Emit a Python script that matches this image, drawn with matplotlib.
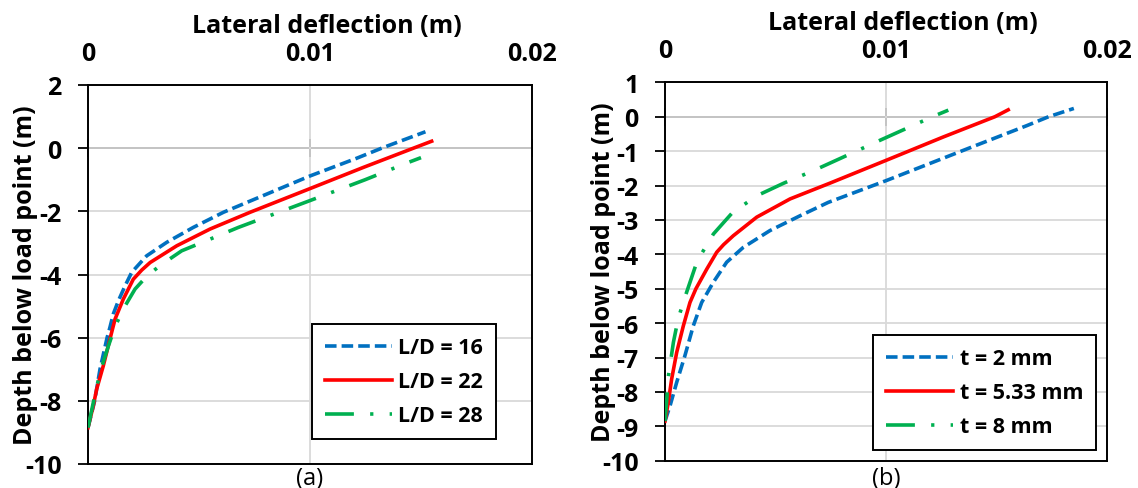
import matplotlib
matplotlib.use("Agg")
import matplotlib.pyplot as plt

plt.rcParams['font.family'] = ['Open Sans', 'DejaVu Sans']
plt.rcParams['axes.unicode_minus'] = False

# (a) effect of L/D  -- deflection (m), depth below load point (m)
ld16_x = [0, 0.0003, 0.00054, 0.00086, 0.00099, 0.00114, 0.00137, 0.00167, 0.00197, 0.00264,
          0.00355, 0.00474, 0.0061, 0.00715, 0.0100, 0.0121, 0.0133, 0.0152]
ld16_y = [-8.85, -8.0, -7.0, -6.0, -5.67, -5.25, -4.83, -4.36, -3.93, -3.41,
          -2.98, -2.51, -2.03, -1.72, -0.88, -0.32, 0.02, 0.52]
ld22_x = [0, 0.00024, 0.00039, 0.00069, 0.00099, 0.00122, 0.00159, 0.00204, 0.00242, 0.0028,
          0.004, 0.0055, 0.0073, 0.0100, 0.0124, 0.01466, 0.01548]
ld22_y = [-8.85, -8.15, -7.63, -6.89, -6.04, -5.41, -4.78, -4.15, -3.86, -3.62,
          -3.09, -2.56, -2.03, -1.28, -0.61, 0.0, 0.22]
ld28_x = [0, 0.00024, 0.00054, 0.00092, 0.00122, 0.00159, 0.00212, 0.00264, 0.00324, 0.00422,
          0.00557, 0.00677, 0.00996, 0.01248, 0.01436, 0.0150]
ld28_y = [-8.85, -8.05, -7.10, -6.26, -5.65, -5.09, -4.46, -4.06, -3.72, -3.25,
          -2.86, -2.51, -1.67, -1.0, -0.47, -0.30]

# (b) effect of wall thickness t
t2_x = [0, 0.00023, 0.00053, 0.00090, 0.00128, 0.00166, 0.00219, 0.00279, 0.00354, 0.00475,
        0.00611, 0.00739, 0.0100, 0.01365, 0.01637, 0.01736, 0.0185]
t2_y = [-8.85, -8.40, -7.72, -6.95, -6.08, -5.40, -4.81, -4.23, -3.80, -3.31,
        -2.88, -2.49, -1.86, -0.94, -0.26, 0.0, 0.24]
t533_x = [0, 0.00015, 0.00030, 0.00053, 0.00083, 0.00113, 0.00140, 0.00189, 0.00234, 0.00265,
          0.00309, 0.00415, 0.00566, 0.00747, 0.0100, 0.01259, 0.01493, 0.01553]
t533_y = [-8.85, -8.30, -7.63, -6.85, -6.08, -5.40, -5.0, -4.43, -3.94, -3.72,
          -3.46, -2.92, -2.39, -1.93, -1.27, -0.59, 0.0, 0.20]
t8_x = [0, 0.00008, 0.00015, 0.00038, 0.00060, 0.00098, 0.00146, 0.00219, 0.00305, 0.00415,
        0.00538, 0.00671, 0.00784, 0.00968, 0.01214, 0.01282]
t8_y = [-8.85, -8.21, -7.56, -6.56, -5.86, -5.10, -4.19, -3.41, -2.79, -2.30,
        -1.93, -1.57, -1.24, -0.70, 0.01, 0.19]

labels_a = ['L/D = 16', 'L/D = 22', 'L/D = 28']
labels_b = ['t = 2 mm', 't = 5.33 mm', 't = 8 mm']
x_ticks = [0, 0.01, 0.02]
x_ticklabels = ['0', '0.01', '0.02']

BLUE = '#0070C0'
RED = '#FF0000'
GREEN = '#00B050'
LW = 2.6
FS = 18


def style_panel(ax, ymin, ymax, zero_frac, tag, tag_y, leg_anchor, series, labels):
    # draw the three curves
    (x1, y1), (x2, y2), (x3, y3) = series
    ax.plot(x1, y1, color=BLUE, lw=LW, dashes=(3.2, 1.4), label=labels[0], zorder=3)
    ax.plot(x2, y2, color=RED, lw=LW, label=labels[1], zorder=3)
    ax.plot(x3, y3, color=GREEN, lw=LW, dashes=(8, 4.5, 0.9, 4.5), label=labels[2], zorder=3)

    ax.set_xlim(0, 0.02)
    ax.set_ylim(ymin, ymax)
    step = 2 if ymax == 2 else 1
    ax.set_yticks(range(ymin, ymax + 1, step))
    ax.set_xticks(x_ticks)
    ax.set_xticklabels(x_ticklabels)
    ax.xaxis.tick_top()
    ax.tick_params(axis='x', length=0, pad=14, labelsize=FS)
    ax.tick_params(axis='y', direction='out', length=7, width=1.3, pad=12, labelsize=FS)
    for lab in ax.get_xticklabels() + ax.get_yticklabels():
        lab.set_fontweight('bold')
    ax.grid(True, color='#D9D9D9', lw=1.3, zorder=0)
    for sp in ax.spines.values():
        sp.set_color('black')
        sp.set_linewidth(1.4)

    ax.set_xlabel('Lateral deflection (m)', fontsize=FS, fontweight='bold')
    ax.xaxis.set_label_position('top')
    ax.xaxis.label.set_va('center')
    ax.xaxis.set_label_coords(0.538, 1.158)
    ax.set_ylabel('Depth below load point (m)', fontsize=FS, fontweight='bold')
    ax.yaxis.label.set_va('center')
    ax.yaxis.set_label_coords(-0.14, 0.5)

    # horizontal axis line crossing at depth 0, with cross ticks
    sec = ax.secondary_xaxis(zero_frac)
    sec.set_xticks(x_ticks)
    sec.tick_params(direction='inout', length=13, width=1.4, labelbottom=False, labeltop=False)
    for sp in sec.spines.values():
        sp.set_linewidth(1.4)

    ax.text(0.5, tag_y, tag, transform=ax.transAxes, ha='center', va='center', fontsize=17)

    leg = ax.legend(loc='lower right', bbox_to_anchor=leg_anchor, borderaxespad=0,
                    prop={'weight': 'bold', 'size': 15.5}, handlelength=3.1,
                    handletextpad=0.3, labelspacing=0.6, borderpad=0.6,
                    fancybox=False, framealpha=1, edgecolor='black')
    leg.get_frame().set_linewidth(1.4)


fig = plt.figure(figsize=(11.38, 4.89), dpi=100)
ax1 = fig.add_axes([88 / 1138, 24 / 489, 444 / 1138, 379 / 489])
ax2 = fig.add_axes([665 / 1138, 27.3 / 489, 442 / 1138, 378.4 / 489])

style_panel(ax1, -10, 2, 10 / 12, '(a)', -0.036, (0.919, 0.066),
            [(ld16_x, ld16_y), (ld22_x, ld22_y), (ld28_x, ld28_y)], labels_a)
style_panel(ax2, -10, 1, 10 / 11, '(b)', -0.045, (0.975, 0.028),
            [(t2_x, t2_y), (t533_x, t533_y), (t8_x, t8_y)], labels_b)

fig.savefig('out.png', dpi=100)
